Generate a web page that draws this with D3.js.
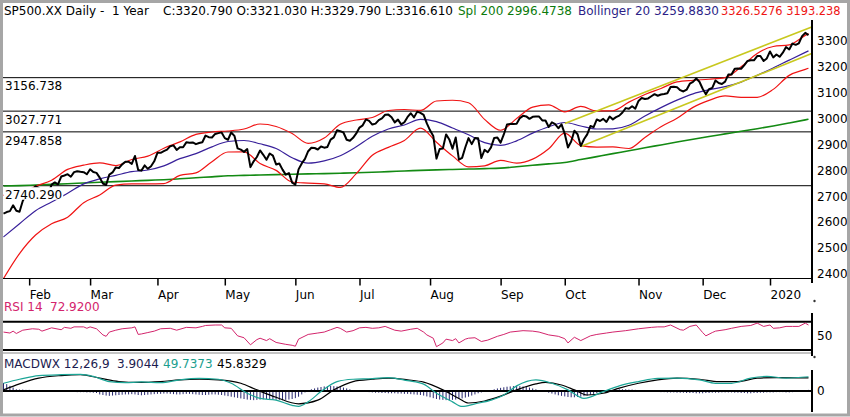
<!DOCTYPE html>
<html lang="en">
<head>
<meta charset="UTF-8" />
<title>SP500.XX Daily - 1 Year</title>
<style>
  html, body { margin: 0; padding: 0; background: #fff; }
  svg { display: block; font-family: "DejaVu Sans", sans-serif; }
  text { font-size: 12px; white-space: pre; }
</style>
</head>
<body>
<svg width="850" height="417"></svg>
<script src="https://d3js.org/d3.v7.min.js"></script>
<script>
// daily closes, 22 Jan 2019 .. 21 Jan 2020 (index = trading day)
const closes = [
  2632.9, 2638.7, 2642.3, 2664.8, 2643.9, 2640.0, 2681.1, 2704.1,
  2706.5, 2724.9, 2737.7, 2731.6, 2706.1, 2707.9, 2709.8, 2744.7, 2753.0, 2745.7, 2775.6, 2779.8, 2784.7, 2774.9, 2792.7, 2796.1, 2793.9, 2792.4, 2784.5,
  2803.7, 2792.8, 2789.7, 2771.5, 2748.9, 2743.1, 2783.3, 2791.5, 2810.9, 2808.5, 2822.5, 2832.9, 2832.6, 2824.2, 2854.9, 2800.7, 2798.4, 2818.5, 2805.4, 2815.4, 2834.4,
  2867.2, 2867.2, 2873.4, 2879.4, 2892.7, 2895.8, 2878.2, 2888.2, 2888.3, 2907.4, 2905.6, 2907.1, 2900.5, 2905.0, 2908.0, 2933.7, 2927.3, 2926.2, 2939.9, 2943.0, 2945.8,
  2923.7, 2917.5, 2945.6, 2932.5, 2884.1, 2879.4, 2870.7, 2881.4, 2811.9, 2834.4, 2851.0, 2876.3, 2859.5, 2840.2, 2864.4, 2856.3, 2822.2, 2826.1, 2802.4, 2783.0, 2788.9, 2752.1,
  2744.5, 2803.3, 2826.2, 2843.5, 2873.3, 2886.7, 2885.7, 2879.8, 2891.6, 2887.0, 2889.7, 2917.8, 2926.5, 2954.2, 2950.5, 2945.4, 2917.4, 2913.8, 2924.9, 2941.8,
  2964.3, 2973.0, 2995.8, 2990.4, 2976.0, 2979.6, 2993.1, 2999.9, 3013.8, 3014.3, 3004.0, 2984.4, 2995.1, 2976.6, 2985.0, 3005.5, 3019.6, 3003.7, 3025.9, 3021.0, 3013.2, 2980.4,
  2953.6, 2932.1, 2844.7, 2881.8, 2884.0, 2938.1, 2918.7, 2882.7, 2926.3, 2840.6, 2847.6, 2888.7, 2923.7, 2900.5, 2924.4, 2923.0, 2847.1, 2878.4, 2869.2, 2887.9, 2924.6, 2926.5,
  2906.3, 2937.8, 2976.0, 2978.7, 2978.4, 2979.4, 3000.9, 3009.6, 3007.4, 2998.0, 3005.7, 3006.7, 3006.8, 2992.1, 2991.8, 2966.6, 2984.9, 2977.6, 2961.8, 2976.7,
  2940.3, 2887.6, 2910.6, 2952.0, 2938.8, 2893.1, 2919.4, 2938.1, 2970.3, 2966.2, 2995.7, 2989.7, 2998.0, 2986.2, 3006.7, 2996.0, 3004.5, 3010.3, 3022.6, 3039.4, 3036.9, 3046.8, 3037.6,
  3066.9, 3078.3, 3074.6, 3076.8, 3085.2, 3093.1, 3087.0, 3091.8, 3094.0, 3096.6, 3120.5, 3122.0, 3120.2, 3108.5, 3103.5, 3110.3, 3133.6, 3140.5, 3153.6, 3141.0,
  3113.9, 3093.2, 3112.8, 3117.4, 3145.9, 3136.0, 3132.5, 3141.6, 3168.6, 3168.8, 3191.5, 3192.5, 3191.1, 3205.4, 3221.2, 3224.0, 3223.4, 3239.9, 3240.0, 3221.3, 3230.8,
  3257.9, 3234.9, 3246.3, 3237.2, 3253.1, 3274.7, 3265.4, 3288.1, 3283.2, 3289.3, 3316.8, 3329.6, 3320.8
];

// weekly samples of the smooth overlays
const bandIdx = [0,5,10,15,20,25,30,35,40,45,50,55,60,65,70,75,80,85,90,95,100,105,110,115,120,125,
  130,135,140,145,150,155,160,165,170,175,180,185,190,195,200,205,210,215,220,225,230,235,240,245,250,251];
const bbMid = [2542.9,2593.9,2644.2,2677.5,2711.1,2747.2,2766.6,2780.4,2794.5,2800.9,2816.7,2844.5,2863.9,2890.1,2910.7,2914.6,
  2901.9,2884.0,2848.1,2827.0,2835.8,2855.6,2890.2,2930.6,2959.1,2974.4,2996.1,2987.3,2962.5,2936.6,2906.5,2896.0,2913.3,2943.0,
  2967.5,2983.9,2970.5,2958.9,2959.5,2973.1,3009.2,3041.4,3070.3,3094.4,3109.9,3121.9,3139.8,3165.7,3194.2,3224.4,3254.1,3259.9];
const bbUpper = [2703.5,2709.1,2738.2,2761.3,2803.1,2819.4,2828.6,2818.0,2841.5,2854.3,2884.9,2909.1,2938.1,2947.3,2951.1,2958.8,
  2978.1,2968.6,2941.5,2903.4,2924.0,2977.4,2993.6,3003.2,3030.1,3034.0,3030.3,3066.9,3069.7,3060.2,2996.1,2954.0,2999.1,3043.2,
  3052.1,3024.9,3045.9,3028.5,3029.3,3062.5,3092.0,3115.2,3140.3,3146.6,3150.7,3157.1,3198.6,3250.3,3276.8,3283.2,3319.7,3326.5];
const bbLower = [2382.3,2478.7,2550.2,2593.7,2619.1,2675.0,2704.6,2742.8,2747.5,2747.5,2748.5,2779.9,2789.7,2832.9,2870.3,2870.4,
  2825.7,2799.4,2754.7,2750.6,2747.6,2733.8,2786.8,2858.0,2888.1,2914.8,2961.9,2907.7,2855.3,2813.0,2816.9,2838.0,2827.5,2842.8,
  2882.9,2942.9,2895.1,2889.3,2889.7,2883.7,2926.4,2967.6,3000.3,3042.2,3069.1,3086.7,3081.0,3081.1,3111.6,3165.6,3188.5,3193.2];
const sma200 = [2739,2740.5,2743,2745.5,2748,2751,2753.5,2756,2758.5,2761,2763.5,2767,2771,2774.5,2778.5,2780,
  2781.5,2783,2784.5,2786,2787,2788.5,2790,2792,2794.5,2797,2799.5,2801.5,2803,2804.5,2806,2808,2813.5,2819,
  2824.5,2830,2841,2852.5,2864,2875,2886.5,2897.5,2908.5,2919.5,2930,2940,2950,2960,2970.5,2982,2994,2996.5];

const levels = [3156.738, 3027.771, 2947.858, 2740.290];
const trendUpper = [[175, 2980], [252, 3352]];
const trendLower = [[180, 2891], [252, 3250]];

const priceTicks = [3300, 3200, 3100, 3000, 2900, 2800, 2700, 2600, 2500, 2400];
const monthLabels = ["Feb", "Mar", "Apr", "May", "Jun", "Jul", "Aug", "Sep", "Oct", "Nov", "Dec", "2020"];
const monthIdx = [8, 27, 48, 69, 91, 111, 133, 155, 175, 198, 218, 239];

// RSI 14 [day, value]
const rsi = [[0,58],[2,56],[3,60],[4,55],[6,62],[9,65],[11,64],[12,60],[15,67],[18,63],[19,68],[21,66],[22,69],[25,69],
  [26,66],[27,69],[29,65],[31,52],[32,49],[33,58],[35,62],[37,65],[40,67],[41,69],[42,53],[43,54],[45,57],[47,60],[49,65],
  [52,66],[54,62],[57,68],[60,67],[62,70],[63,72],[66,73],[68,73],[69,67],[71,66],[73,50],[75,46],[77,31],[79,42],[80,45],
  [82,40],[83,44],[85,36],[88,32],[90,30],[91,28],[92,43],[95,53],[98,56],[100,58],[102,63],[104,68],[105,66],[107,58],
  [109,61],[111,67],[113,68],[115,66],[117,67],[119,70],[122,62],[124,60],[127,64],[129,66],[131,58],[132,52],[134,45],
  [135,27],[137,35],[138,43],[140,40],[141,44],[142,35],[144,43],[145,45],[147,46],[149,38],[151,41],[154,49],[156,53],
  [158,58],[162,61],[165,60],[167,58],[170,52],[173,49],[175,44],[176,35],[178,47],[180,40],[183,50],[185,53],[188,56],
  [190,58],[194,61],[198,65],[202,68],[204,69],[206,69],[208,73],[211,63],[212,62],[214,70],[216,73],[218,57],[219,50],
  [221,57],[222,60],[225,63],[227,66],[230,70],[233,72],[235,77],[237,70],[239,73],[240,66],[242,67],[244,70],[246,70],
  [248,70],[250,77],[251,72.92]];

// MACD 12,26,9 [day, value]
const macdLine = [[0,27],[5,41],[11,54],[18,57],[24,58],[28,51],[33,33],[38,29],[43,32],[49,29],[55,39],[61,44],[67,41],
  [71,27],[76,-8],[80,-26],[85,-32],[90,-50],[92,-54],[95,-38],[99,-2],[104,33],[109,41],[115,43],[120,47],[126,36],
  [131,24],[135,-8],[140,-38],[143,-54],[147,-45],[152,-32],[156,-14],[160,18],[166,39],[171,27],[176,4],[181,-26],
  [187,-2],[192,18],[198,33],[204,44],[210,45],[217,39],[222,27],[227,27],[233,45],[238,51],[244,45],[251,49.74]];
const signalLine = [[0,4],[5,25],[11,45],[18,54],[24,57],[30,45],[36,33],[42,30],[49,33],[55,39],[61,41],[67,39],
  [74,27],[79,4],[85,-22],[92,-45],[98,-32],[103,4],[109,33],[115,41],[120,45],[126,39],[131,31],[137,4],[142,-26],
  [145,-42],[150,-35],[155,-18],[160,4],[166,25],[169,30],[174,21],[178,4],[182,-14],[187,-8],[192,10],[198,27],
  [204,39],[210,45],[217,41],[223,33],[229,33],[235,45],[241,47],[251,45.83]];
// histogram, one bar per trading day
const macdHist = [
  28,24,18,12, 6,5,5,4,4,3,3,2,
  1,1,0,-1,-1,-2,-2,-2,-3,-3,-3,-4,-4,-4,-5,-5,-6,-7,
  -12,-14,-16,-17,-16,-15,-14,-13,-12,-12,-11,-12,-14,-15,-14,-13,-12,-11,-10,-10,
  -9,-9,-10,-11,-12,-12,-11,-10,-10,-11,-12,-13,-14,-14,-13,-12,-12,-13,-14,-16,-18,-20,
  -22,-24,-26,-28,-30,-31,-32,-31,-30,-29,-28,-28,-29,-30,-31,-32,-31,-30,-28,-25,-20,
  -12,-5,2,
  6,9,12,14,16,17,18,17,16,14,12,9,6,
  3,1,-1,-2,-3,-4,-5,-6,-6,-7,-7,-8,-8,-8,-9,-9,-10,-10,-11,-12,-13,-14,
  -16,-19,-22,-25,-28,-30,-31,-32,-32,-31,-30,-28,-26,-23,-20,-16,-12,
  -8,-5,-2,1,3,6,9,
  11,13,15,16,17,18,17,16,14,12,9,
  6,3,0,-3,-6,-9,-12,
  -15,-17,-19,-21,-22,-22,-21,-20,-18,-16,-13,-10,-7,-4,
  -1,1,3,4,5,6,6,6,5,5,4,3,2,1,0,
  -2,-3,-3,-4,-4,-5,-5,-5,-6,-6,-6,-7,-7,-7,-8,-8,-8,-7,-7,-6,
  -6,-6,-5,-5,-5,-5,-6,-6,-7,-7,-8,-8,-7,-7,-6,-6,-5,-5,-5,-4,
  -4,-4,-5,-5,-4,-3,-2,-1,2,3.9
];

const svg = d3.select("svg");

const x = d3.scaleLinear().domain([0, 252]).range([3.5, 811.7]);
const y = d3.scaleLinear().domain([2400, 3300]).range([274, 40.5]);
const yRsi = d3.scaleLinear().domain([20, 80]).range([350, 321.7]);
const yMacd = d3.scaleLinear().domain([0, 50]).range([391, 376.7]);

svg.append("defs").append("clipPath").attr("id", "mainClip")
  .append("rect").attr("x", 3).attr("y", 18).attr("width", 809).attr("height", 260);

const main = svg.append("g").attr("clip-path", "url(#mainClip)");

// horizontal levels
main.selectAll("line.level").data(levels).join("line")
  .attr("class", "level")
  .attr("x1", 3).attr("x2", 812)
  .attr("y1", d => y(d)).attr("y2", d => y(d))
  .attr("stroke", "#000").attr("stroke-width", 1);

const smooth = (arr) => d3.line().x((d, i) => x(bandIdx[i])).y(d => y(d)).curve(d3.curveMonotoneX)(arr);

main.append("path").attr("d", smooth(sma200))
  .attr("fill", "none").attr("stroke", "#138a13").attr("stroke-width", 1.6);
main.append("path").attr("d", smooth(bbUpper))
  .attr("fill", "none").attr("stroke", "#f01414").attr("stroke-width", 1.2);
main.append("path").attr("d", smooth(bbLower))
  .attr("fill", "none").attr("stroke", "#f01414").attr("stroke-width", 1.2);
main.append("path").attr("d", smooth(bbMid))
  .attr("fill", "none").attr("stroke", "#38209a").attr("stroke-width", 1.2);

const pairLine = d3.line().x(d => x(d[0])).y(d => y(d[1]));
[trendUpper, trendLower].forEach(t => {
  main.append("path").attr("d", pairLine(t))
    .attr("fill", "none").attr("stroke", "#c8c81e").attr("stroke-width", 1.6);
});

main.append("path")
  .attr("d", d3.line().x((d, i) => x(i)).y(d => y(d))(closes))
  .attr("fill", "none").attr("stroke", "#000").attr("stroke-width", 2)
  .attr("stroke-linejoin", "round");

// level labels with white boxes
const lvl = svg.append("g");
levels.forEach(v => {
  const box = lvl.append("rect").attr("fill", "#fff");
  const t = lvl.append("text").attr("x", 5).attr("y", y(v) + 12.8).text(v.toFixed(3));
  const bb = t.node().getBBox();
  box.attr("x", 4).attr("y", y(v) + 1.5).attr("width", bb.width + 2).attr("height", 12.5);
});

const styleText = sel => sel.attr("font-size", 12).attr("font-family", "DejaVu Sans").attr("fill", "#000");

// right price axis
svg.append("line").attr("x1", 812).attr("x2", 812).attr("y1", 20).attr("y2", 283)
  .attr("stroke", "#000").attr("stroke-width", 2);
const yAxis = svg.append("g").attr("transform", "translate(812,0)")
  .call(d3.axisRight(y).tickValues(priceTicks).tickFormat(d3.format("d")).tickSize(0).tickPadding(5));
yAxis.select(".domain").remove();
styleText(yAxis.selectAll("text"));

// month axis
svg.append("line").attr("x1", 3).attr("x2", 812).attr("y1", 278.5).attr("y2", 278.5)
  .attr("stroke", "#000").attr("stroke-width", 1);
const xAxis = svg.append("g").attr("transform", "translate(0,278.5)")
  .call(d3.axisBottom(x).tickValues(monthIdx).tickFormat((d, i) => monthLabels[i]).tickSize(7));
xAxis.select(".domain").remove();
xAxis.selectAll(".tick line").attr("stroke-width", 1.5);
styleText(xAxis.selectAll("text")).attr("text-anchor", "start").attr("x", 0).attr("y", 12);

// title
const title = svg.append("text").attr("y", 14.5);
title.append("tspan").attr("x", 4).attr("fill", "#000").text("SP500.XX Daily -  1 Year");
title.append("tspan").attr("x", 163).attr("fill", "#000").text("C:3320.790 O:3321.030 H:3329.790 L:3316.610");
title.append("tspan").attr("x", 458).attr("fill", "#0c7a0c").text("Spl 200 2996.4738");
title.append("tspan").attr("x", 578).attr("fill", "#2d1f87").text("Bollinger 20 3259.8830");
title.append("tspan").attr("x", 721).attr("fill", "#ee1414").attr("font-size", 11.4).text("3326.5276 3193.238");

// RSI panel
const rsiTitle = svg.append("text").attr("y", 311.3).attr("fill", "#d3246c");
rsiTitle.append("tspan").attr("x", 4).text("RSI 14");
rsiTitle.append("tspan").attr("x", 50).text("72.9200");

[80, 20].forEach(v => {
  svg.append("line").attr("x1", 3).attr("x2", 812).attr("y1", yRsi(v)).attr("y2", yRsi(v))
    .attr("stroke", "#000").attr("stroke-width", 2);
});
svg.append("line").attr("x1", 3).attr("x2", 812).attr("y1", 353).attr("y2", 353)
  .attr("stroke", "#8a8a8a").attr("stroke-width", 1);
svg.append("path")
  .attr("d", d3.line().x(d => x(d[0])).y(d => yRsi(d[1]))(rsi))
  .attr("fill", "none").attr("stroke", "#d3246c").attr("stroke-width", 1);
svg.append("line").attr("x1", 812).attr("x2", 812).attr("y1", 313).attr("y2", 356)
  .attr("stroke", "#000").attr("stroke-width", 2);
const rAxis = svg.append("g").attr("transform", "translate(812,0)")
  .call(d3.axisRight(yRsi).tickValues([50]).tickSize(0).tickPadding(5));
rAxis.select(".domain").remove();
styleText(rAxis.selectAll("text"));

// MACD panel
const macdTitle = svg.append("text").attr("y", 367.6);
macdTitle.append("tspan").attr("x", 4).attr("fill", "#1c1c50").text("MACDWX 12,26,9");
macdTitle.append("tspan").attr("x", 117).attr("fill", "#1c1c50").text("3.9044");
macdTitle.append("tspan").attr("x", 163).attr("fill", "#1b9e8e").text("49.7373");
macdTitle.append("tspan").attr("x", 217).attr("fill", "#000").text("45.8329");

svg.append("g").selectAll("line").data(macdHist).join("line")
  .attr("x1", (d, i) => x(i)).attr("x2", (d, i) => x(i))
  .attr("y1", yMacd(0)).attr("y2", d => yMacd(d))
  .attr("stroke", "#26266e").attr("stroke-width", 1);

svg.append("line").attr("x1", 3).attr("x2", 812).attr("y1", yMacd(0)).attr("y2", yMacd(0))
  .attr("stroke", "#000").attr("stroke-width", 2);

const macdPath = d3.line().x(d => x(d[0])).y(d => yMacd(d[1])).curve(d3.curveMonotoneX);
svg.append("path").attr("d", macdPath(signalLine))
  .attr("fill", "none").attr("stroke", "#000").attr("stroke-width", 1.2);
svg.append("path").attr("d", macdPath(macdLine))
  .attr("fill", "none").attr("stroke", "#1ba596").attr("stroke-width", 1.2);

svg.append("line").attr("x1", 812).attr("x2", 812).attr("y1", 370).attr("y2", 412)
  .attr("stroke", "#000").attr("stroke-width", 2);
const mAxis = svg.append("g").attr("transform", "translate(812,0)")
  .call(d3.axisRight(yMacd).tickValues([0]).tickSize(0).tickPadding(5));
mAxis.select(".domain").remove();
styleText(mAxis.selectAll("text"));

// little markers above the panel axes
[301, 357].forEach(cy => {
  svg.append("circle").attr("cx", 814.5).attr("cy", cy).attr("r", 1.2).attr("fill", "#333");
});

// window frame
svg.append("rect").attr("x", 1.5).attr("y", 1.5).attr("width", 847).attr("height", 413.5)
  .attr("fill", "none").attr("stroke", "#a6a6a6").attr("stroke-width", 3);
</script>
</body>
</html>
